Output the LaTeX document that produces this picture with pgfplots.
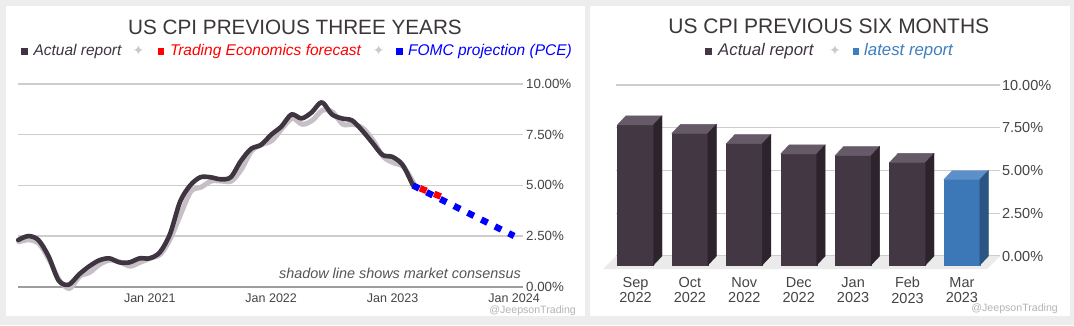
\documentclass[border=0pt]{standalone}
\usepackage{fontspec}
\setmainfont{Liberation Sans}
\newfontfamily\dejavu{DejaVu Sans}
\usepackage{pgfplots}
\usepackage{pgfplotstable}
\pgfplotsset{compat=1.18}

\definecolor{bggray}{HTML}{EDEDED}
\definecolor{dark}{HTML}{433743}
\definecolor{darktop}{HTML}{665A68}
\definecolor{darkside}{HTML}{2D232D}
\definecolor{blu}{HTML}{3C78B8}
\definecolor{blutop}{HTML}{5C90C8}
\definecolor{bluside}{HTML}{2A5482}
\definecolor{linecol}{HTML}{3E3540}
\definecolor{shadowc}{HTML}{C6C0C6}
\definecolor{gridc}{HTML}{CDCDCD}
\definecolor{basec}{HTML}{9E9E9E}
\definecolor{floorc}{HTML}{EBEBEB}
\definecolor{titlec}{HTML}{3A363A}
\definecolor{ticktxt}{HTML}{444444}
\definecolor{notec}{HTML}{555555}
\definecolor{latest}{HTML}{3D7EC0}
\definecolor{starc}{HTML}{CACACA}
\definecolor{wmark}{HTML}{B4B4B4}

% US CPI year-over-year, Dec 2019 (m=0) to Mar 2023 (m=39)
\pgfplotstableread{
m v
0 2.3
1 2.5
2 2.3
3 1.5
4 0.3
5 0.1
6 0.6
7 1.0
8 1.3
9 1.4
10 1.2
11 1.2
12 1.4
13 1.4
14 1.7
15 2.6
16 4.2
17 5.0
18 5.4
19 5.4
20 5.3
21 5.4
22 6.2
23 6.8
24 7.0
25 7.5
26 7.9
27 8.5
28 8.3
29 8.6
30 9.1
31 8.5
32 8.3
33 8.2
34 7.7
35 7.1
36 6.5
37 6.4
38 6.0
39 5.0
}\actual

% market consensus
\pgfplotstableread{
m v
0 2.3
1 2.4
2 2.2
3 1.4
4 0.4
5 0.0
6 0.6
7 0.8
8 1.2
9 1.4
10 1.3
11 1.1
12 1.3
13 1.5
14 1.7
15 2.5
16 3.7
17 4.8
18 5.0
19 5.3
20 5.3
21 5.3
22 5.9
23 6.8
24 7.1
25 7.3
26 7.9
27 8.4
28 8.1
29 8.3
30 8.8
31 8.7
32 8.1
33 8.1
34 7.9
35 7.3
36 6.5
37 6.2
38 6.0
39 5.2
}\consensus

\pgfplotstableread{
i v
0 8.2
1 7.7
2 7.1
3 6.5
4 6.4
5 6.0
}\sixmonths

\pgfplotstableread{
i v
6 5.0
}\latestmonth

\pgfdeclareplotmark{empty3d}{}

\pgfplotsset{
  box3d/.style n args={3}{
    scatter, only marks, mark=empty3d,
    visualization depends on={\thisrow{v} \as \val},
    scatter/@pre marker code/.code={%
      \pgfmathsetmacro\barH{\val*17.1}%
      \fill[#1] (-26.5pt,-9pt) rectangle (9.5pt,{-\barH pt-9pt});%
      \fill[#2] (-26.5pt,-9pt) -- (-18pt,0pt) -- (18pt,0pt) -- (9.5pt,-9pt) -- cycle;%
      \fill[#3] (9.5pt,-9pt) -- (18pt,0pt) -- (18pt,{-\barH pt}) -- (9.5pt,{-\barH pt-9pt}) -- cycle;%
    },
    scatter/@post marker code/.code={},
  }
}

\begin{document}
\begin{tikzpicture}
\useasboundingbox (0,0) rectangle (1074pt,325pt);
\fill[bggray] (0,0) rectangle (1074pt,325pt);
\fill[white] (6pt,9pt) rectangle (585pt,319pt);
\fill[white] (590pt,9pt) rectangle (1070pt,319pt);

% ---------- left panel ----------
\node[anchor=base, inner sep=0, text=titlec, font=\fontsize{20.7pt}{24pt}\selectfont] at (295pt,290.7pt) {US CPI PREVIOUS THREE YEARS};
\fill[linecol] (21.3pt,270.5pt) rectangle (27.8pt,277pt);
\node[anchor=base west, inner sep=0, text=linecol, font=\fontsize{15.5pt}{18pt}\selectfont\itshape] at (33.4pt,270pt) {Actual report};
\node[inner sep=0, text=starc, font=\dejavu\fontsize{14pt}{15pt}\selectfont] at (138.4pt,275pt) {✦};
\fill[red] (157.7pt,270.5pt) rectangle (164.2pt,277pt);
\node[anchor=base west, inner sep=0, text=red, font=\fontsize{15.5pt}{18pt}\selectfont\itshape] at (169.8pt,270pt) {Trading Economics forecast};
\node[inner sep=0, text=starc, font=\dejavu\fontsize{14pt}{15pt}\selectfont] at (378.8pt,275pt) {✦};
\fill[blue] (396.2pt,270.5pt) rectangle (402.7pt,277pt);
\node[anchor=base west, inner sep=0, text=blue, font=\fontsize{15.5pt}{18pt}\selectfont\itshape] at (408pt,270pt) {FOMC projection (PCE)};

\begin{axis}[
  at={(18.2pt,38.3pt)}, anchor=south west,
  x=10.12pt, y=20.27pt,
  xmin=0, xmax=49.9, ymin=0, ymax=10,
  clip=false,
  axis line style={draw=none},
  major tick length=0pt,
  ytick={0,2.5,5,7.5,10},
  yticklabels={0.00\%,2.50\%,5.00\%,7.50\%,10.00\%},
  ytick pos=right, yticklabel pos=right,
  yticklabel style={anchor=west, xshift=-0.5pt, font=\fontsize{13.3pt}{15pt}\selectfont, text=ticktxt},
  xtick={13,25,37,49},
  xticklabels={Jan 2021,Jan 2022,Jan 2023,Jan 2024},
  xticklabel style={anchor=north, yshift=-3.4pt, font=\fontsize{12.5pt}{14pt}\selectfont, text=ticktxt},
  ymajorgrids, grid style={gridc, line width=1.2pt},
]
\draw[basec, line width=1.8pt] (axis cs:0,0) -- (axis cs:49.9,0);
\addplot[shadowc, line width=5pt, smooth, tension=0.5, line cap=round, line join=round, xshift=0.8pt, yshift=-1.8pt] table[x=m,y=v] {\consensus};
\addplot[linecol, line width=4.6pt, smooth, tension=0.5, line cap=round, line join=round] table[x=m,y=v] {\actual};
\addplot[red, line width=6.5pt, dash pattern=on 7pt off 8.3pt, dash phase=7.65pt] coordinates {(39,5.0) (40,4.8) (41,4.6) (42,4.4)};
\addplot[blue, line width=6.5pt, dash pattern=on 7pt off 8.3pt] coordinates {(39,5.0) (49,2.5)};
\end{axis}
\node[anchor=base east, inner sep=0, text=notec, font=\fontsize{14.4pt}{16pt}\selectfont\itshape] at (521pt,47pt) {shadow line shows market consensus};
\node[anchor=base east, inner sep=0, text=wmark, font=\fontsize{10.6pt}{12pt}\selectfont] at (576pt,11.5pt) {@JeepsonTrading};

% ---------- right panel ----------
\node[anchor=base, inner sep=0, text=titlec, font=\fontsize{21pt}{24pt}\selectfont] at (828.8pt,291.7pt) {US CPI PREVIOUS SIX MONTHS};
\fill[dark] (705pt,270.5pt) rectangle (711.5pt,277pt);
\node[anchor=base west, inner sep=0, text=linecol, font=\fontsize{16.8pt}{19pt}\selectfont\itshape] at (718pt,270pt) {Actual report};
\node[inner sep=0, text=starc, font=\dejavu\fontsize{14pt}{15pt}\selectfont] at (835pt,275pt) {✦};
\fill[latest] (852.5pt,270.5pt) rectangle (859pt,277pt);
\node[anchor=base west, inner sep=0, text=latest, font=\fontsize{16.8pt}{19pt}\selectfont\itshape] at (864pt,270pt) {latest report};

\begin{axis}[
  at={(616pt,55.3pt)}, anchor=south west,
  x=54.4pt, y=17.1pt,
  xmin=-0.515, xmax=6.544, ymin=-0.8, ymax=10,
  clip=false,
  axis line style={draw=none},
  major tick length=0pt,
  ytick={0,2.5,5,7.5,10},
  yticklabels={0.00\%,2.50\%,5.00\%,7.50\%,10.00\%},
  ytick pos=right, yticklabel pos=right,
  yticklabel style={anchor=west, xshift=-1.5pt, font=\fontsize{14.5pt}{16pt}\selectfont, text=ticktxt},
  xtick={0,1,2,3,4,5,6},
  xticklabels={{Sep\\2022},{Oct\\2022},{Nov\\2022},{Dec\\2022},{Jan\\2023},{Feb\\2023},{Mar\\2023}},
  xticklabel style={align=center, anchor=north, xshift=-8.5pt, yshift=-4pt, font=\fontsize{14.5pt}{15.5pt}\selectfont, text=ticktxt},
  ymajorgrids, grid style={gridc, line width=1.2pt},
]
\addplot[fill=floorc, draw=none] coordinates {(-0.515,0) (6.544,0) (6.305,-0.76) (-0.754,-0.76)};
\addplot[box3d={dark}{darktop}{darkside}] table[x=i,y=v] {\sixmonths};
\addplot[box3d={blu}{blutop}{bluside}] table[x=i,y=v] {\latestmonth};
\end{axis}
\node[anchor=base east, inner sep=0, text=wmark, font=\fontsize{10.6pt}{12pt}\selectfont] at (1058pt,14pt) {@JeepsonTrading};
\end{tikzpicture}
\end{document}
